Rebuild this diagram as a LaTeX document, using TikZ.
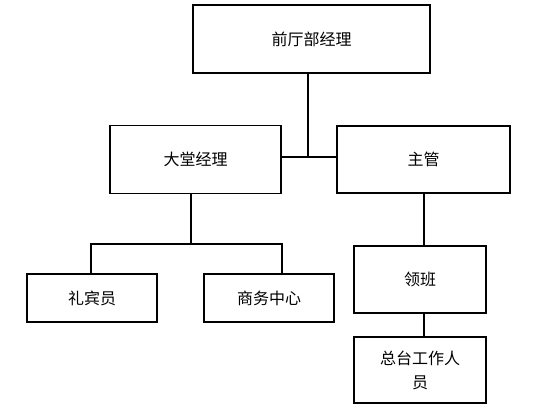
\documentclass[tikz,border=0pt]{standalone}
\usepackage{fontspec}
\newfontfamily\cjk{Noto Sans CJK SC}
\usetikzlibrary{positioning}

\begin{document}
\begin{tikzpicture}[x=1pt, y=-1pt,
    box/.style={draw, line width=1.4pt, align=center, inner sep=0pt,
        font=\cjk\fontsize{16}{24}\selectfont},
    link/.style={line width=1.4pt}]
    \useasboundingbox (0,0) rectangle (541,411);
    % boxes
    \node[box, minimum width=237pt, minimum height=68pt] (qt) at (311.5,39) {前厅部经理};
    \node[box, minimum width=171pt, minimum height=68pt] (dt) at (195.5,159.5) {大堂经理};
    \node[box, minimum width=173pt, minimum height=67pt] (zg) at (423.5,159.5) {主管};
    \node[box, minimum width=130pt, minimum height=48pt] (lby) at (92,298) {礼宾员};
    \node[box, minimum width=130pt, minimum height=48pt] (swzx) at (269,298) {商务中心};
    \node[box, minimum width=132pt, minimum height=67pt] (lb) at (420,279.5) {领班};
    \node[box, minimum width=132pt, minimum height=66pt] (zt) at (420,370) {总台工作人\\员};
    % connectors
    \coordinate (j) at (308,157);
    \coordinate (bl) at (91,244);
    \coordinate (bm) at (191,244);
    \coordinate (br) at (282,244);
    \coordinate (rv) at (424,0);
    \draw[link] (qt.south -| j) -- (j);
    \draw[link] (dt.east |- j) -- (zg.west |- j);
    \draw[link] (dt.south -| bm) -- (bm);
    \draw[link] (lby.north -| bl) -- (bl) -- (br) -- (swzx.north -| br);
    \draw[link] (zg.south -| rv) -- (lb.north -| rv);
    \draw[link] (lb.south -| rv) -- (zt.north -| rv);
\end{tikzpicture}
\end{document}
